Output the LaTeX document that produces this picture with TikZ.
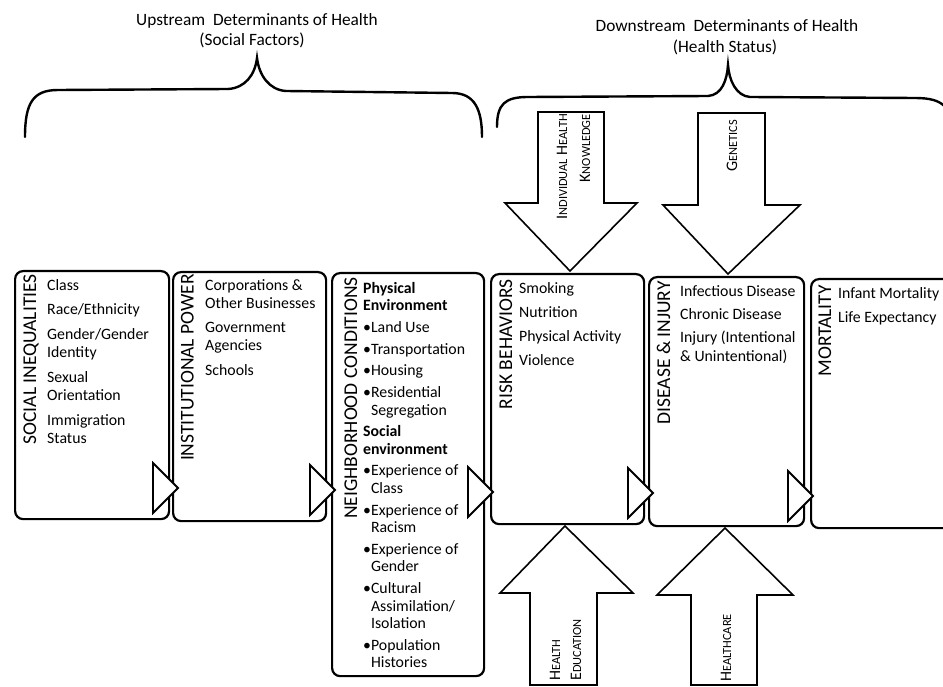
\documentclass[tikz,border=0pt]{standalone}
\usepackage{fontspec}
\setmainfont{Carlito}
\newcommand{\myfsc}[2]{#1{\fontsize{12.4}{12.4}\selectfont #2}}
\newcommand{\myind}{\hphantom{•}}
\begin{document}
\begin{tikzpicture}[x=1pt,y=-1pt,
  box/.style={draw, line width=2.2pt, rounded corners=8pt, inner sep=0pt, anchor=north west},
  notch/.style={draw, fill=white, line width=1.8pt, line join=miter},
  blockarrow/.style={draw, fill=white, line width=1.6pt, line join=miter},
  brace/.style={draw, line width=2.4pt, line cap=round},
  lbl/.style={rotate=90, anchor=base east, inner sep=0pt, font=\fontsize{19.5}{19.5}\selectfont},
  items/.style={anchor=north west, inner sep=0pt, align=left},
  atxt/.style={rotate=90, inner sep=0pt, font=\fontsize{16}{16}\selectfont},
  head/.style={inner sep=0pt, font=\fontsize{17.3}{19}\selectfont}
]
\clip (0,0) rectangle (943,687);
\fill[white] (0,0) rectangle (943,687);

% headers
\node[head] (h1) at (257,21) {Upstream\ \ Determinants of Health};
\node[head] (h1b) at (252,40) {(Social Factors)};
\node[head] (h2) at (727,26) {Downstream\ \ Determinants of Health};
\node[head] (h2b) at (725,47) {(Health Status)};

% braces
\draw[brace] (25,137) .. controls (25,103) and (33,90) .. (58,90) -- (228,89)
  .. controls (245,88) and (255,75) .. (257,58)
  .. controls (259,75) and (269,90) .. (286,91) -- (452,93)
  .. controls (475,93) and (482,110) .. (482,137);
\draw[brace] (497,127) .. controls (497,104) and (505,97) .. (528,97) -- (708,96)
  .. controls (722,95) and (727,80) .. (728,65)
  .. controls (729,80) and (736,96) .. (750,97) -- (915,98)
  .. controls (945,98) and (953,108) .. (953,140);

% boxes
\node[box, minimum width=154pt, minimum height=248pt] (b1) at (14,270) {};
\node[box, minimum width=153pt, minimum height=249pt] (b2) at (172,271) {};
\node[box, minimum width=152pt, minimum height=403pt] (b3) at (331,272) {};
\node[box, minimum width=153pt, minimum height=250pt] (b4) at (490,273) {};
\node[box, minimum width=155pt, minimum height=249pt] (b5) at (648,276) {};
\node[box, minimum width=170pt, minimum height=249pt] (b6) at (810,278) {};

% notches
\draw[notch] (153,463) -- (178,488) -- (153,513) -- cycle;
\draw[notch] (310,465) -- (335,490) -- (310,515) -- cycle;
\draw[notch] (468,467) -- (493,492) -- (468,517) -- cycle;
\draw[notch] (628,468) -- (653,493) -- (628,518) -- cycle;
\draw[notch] (788,471) -- (813,496) -- (788,521) -- cycle;

% block arrows
\draw[blockarrow] (538,112) -- (604,112) -- (604,203) -- (637,203) -- (570,271) -- (505,203) -- (538,203) -- cycle;
\draw[blockarrow] (698,113) -- (765,113) -- (765,205) -- (800,205) -- (728,274) -- (663,205) -- (698,205) -- cycle;
\draw[blockarrow] (530,685) -- (530,593) -- (500,593) -- (565,526) -- (633,593) -- (597,593) -- (597,685) -- cycle;
\draw[blockarrow] (691,685) -- (691,595) -- (657,595) -- (725,528) -- (793,595) -- (757,595) -- (757,685) -- cycle;

% arrow texts
\node[atxt, anchor=base east] (t1) at (567,114) {\myfsc{I}{NDIVIDUAL} \myfsc{H}{EALTH}};
\node[atxt, anchor=base east] (t2) at (590,114) {\myfsc{K}{NOWLEDGE}};
\node[atxt, anchor=base east] (t3) at (737,120) {\myfsc{G}{ENETICS}};
\node[atxt, anchor=base west] (t4) at (560,681) {\myfsc{H}{EALTH}};
\node[atxt, anchor=base west] (t5) at (581,681) {\myfsc{E}{DUCATION}};
\node[atxt, anchor=base west] (t6) at (731,682) {\myfsc{H}{EALTHCARE}};

% box labels
\node[lbl] (l1) at (36,274) {SOCIAL INEQUALITIES};
\node[lbl] (l2) at (193.5,274) {INSTITUTIONAL POWER};
\node[lbl] (l3) at (357,277) {NEIGHBORHOOD CONDITIONS};
\node[lbl] (l4) at (512,279) {RISK BEHAVIORS};
\node[lbl] (l5) at (670,281) {DISEASE \& INJURY};
\node[lbl] (l6) at (831,285) {MORTALITY};

% box items
\node[items, font=\fontsize{15.8}{18.5}\selectfont] (i1) at (47,277) {\rule{0pt}{13pt}Class\\[6pt]
Race/Ethnicity\\[6pt]
Gender/Gender\\
Identity\\[6pt]
Sexual\\
Orientation\\[6pt]
Immigration\\
Status};

\node[items, font=\fontsize{15.8}{18}\selectfont] (i2) at (205,277) {\rule{0pt}{13pt}Corporations \&\\
Other Businesses\\[6.5pt]
Government\\
Agencies\\[6.5pt]
Schools};

\node[items, font=\fontsize{15.8}{17.5}\selectfont] (i3) at (363,280) {\rule{0pt}{13pt}\textbf{Physical}\\
\textbf{Environment}\\[4.2pt]
•Land Use\\[4.2pt]
•Transportation\\[4.2pt]
•Housing\\[4.2pt]
•Residential\\
\myind Segregation\\[4.2pt]
\textbf{Social}\\
\textbf{environment}\\[4.2pt]
•Experience of\\
\myind Class\\[4.2pt]
•Experience of\\
\myind Racism\\[4.2pt]
•Experience of\\
\myind Gender\\[4.2pt]
•Cultural\\
\myind Assimilation/\\
\myind Isolation\\[4.2pt]
•Population\\
\myind Histories};

\node[items, font=\fontsize{15.8}{18}\selectfont] (i4) at (519,280) {\rule{0pt}{13pt}Smoking\\[6pt]
Nutrition\\[6pt]
Physical Activity\\[6pt]
Violence};

\node[items, font=\fontsize{15.8}{19}\selectfont] (i5) at (680,283) {\rule{0pt}{13pt}Infectious Disease\\[4pt]
Chronic Disease\\[4pt]
Injury (Intentional\\
\& Unintentional)};

\node[items, font=\fontsize{15.8}{18}\selectfont] (i6) at (838,285) {\rule{0pt}{13pt}Infant Mortality\\[6pt]
Life Expectancy};
\end{tikzpicture}
\end{document}
